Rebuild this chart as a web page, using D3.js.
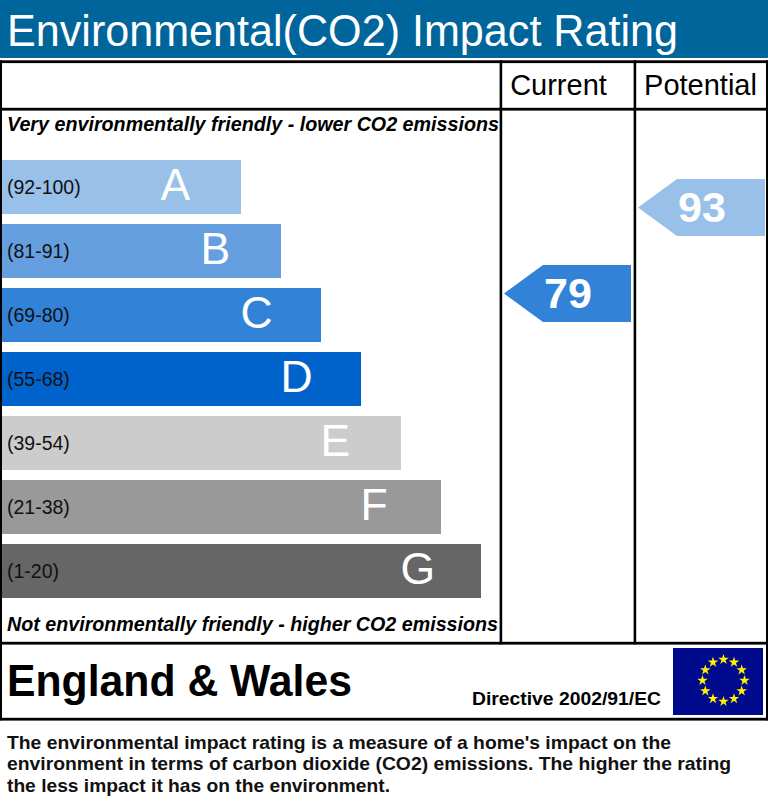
<!DOCTYPE html>
<html><head><meta charset="utf-8">
<script src="https://cdn.jsdelivr.net/npm/d3@7"></script>
<style>html,body{margin:0;padding:0;background:#fff}svg{display:block}text{font-family:"Liberation Sans",Arial,sans-serif}</style>
</head><body><svg id="c" width="768" height="808"></svg>
<script>
const letters = ["A","B","C","D","E","F","G"];
const ranges = ["(92-100)","(81-91)","(69-80)","(55-68)","(39-54)","(21-38)","(1-20)"];
const steps = [1,2,3,4,5,6,7];
const colors = ["#98c0e9","#659fdf","#3282d8","#0063cc","#cccccc","#999999","#666666"];
const scoreCurrent = 79, scorePotential = 93;
const noteLines = ["The environmental impact rating is a measure of a home's impact on the",
 "environment in terms of carbon dioxide (CO2) emissions. The higher the rating",
 "the less impact it has on the environment."];
const ratingColor = s => s>=92?colors[0]:s>=81?colors[1]:s>=69?colors[2]:s>=55?colors[3]:s>=39?colors[4]:s>=21?colors[5]:colors[6];

const svg = d3.select("#c");
const T=(x,y,t,size,o={})=>svg.append("text").attr("x",x).attr("y",y).text(t).attr("font-size",size)
  .attr("fill",o.fill||"#000").attr("font-weight",o.w||"normal").attr("font-style",o.i||"normal")
  .attr("text-anchor",o.a||"start").attr("textLength",o.tl||null).attr("lengthAdjust",o.tl?"spacingAndGlyphs":null);
const R=(x,y,w,h,f)=>svg.append("rect").attr("x",x).attr("y",y).attr("width",w).attr("height",h).attr("fill",f);

// header
R(0,0,768,58,"#00659b");
T(7,46,"Environmental(CO2) Impact Rating",44.5,{fill:"#fff",tl:671});

// scales
const y = d3.scaleBand().domain(letters).range([160,598]).paddingInner(10/64).paddingOuter(0);
const x = d3.scaleLinear().domain([1,7]).range([241,481]);
const yScore = d3.scaleLinear().domain([79,93]).range([293.5,207.5]);

// bars
const g = svg.append("g").selectAll("g").data(letters).join("g");
g.append("rect").attr("x",2).attr("y",d=>y(d)).attr("height",y.bandwidth())
 .attr("width",(d,i)=>x(steps[i])-2).attr("fill",(d,i)=>colors[i]);
g.append("text").attr("x",7).attr("y",d=>y(d)+34).attr("font-size",19.5).attr("fill","#111").text((d,i)=>ranges[i]);
g.append("text").attr("x",(d,i)=>x(steps[i])-80.5).attr("y",d=>y(d)+40).attr("font-size",44.5)
 .attr("fill","#fff").text(d=>d);

// frame
const K="#000";
R(0,60.3,768,2.8,K); R(0,107.8,768,2.8,K); R(0,641.8,768,2.8,K); R(0,717.8,768,2.8,K);
R(0,60.3,2,660,K); R(766,60.3,2,660,K);
R(499.6,60.3,2.6,584,K); R(633.6,60.3,2.6,584,K);

T(558.5,95,"Current",29,{a:"middle"});
T(700.5,95,"Potential",29,{a:"middle"});
T(7,131,"Very environmentally friendly - lower CO2 emissions",20,{w:"bold",i:"italic",tl:492});
T(7,631,"Not environmentally friendly - higher CO2 emissions",20,{w:"bold",i:"italic",tl:491});

// arrows
function arrow(score,tip){
  const c=yScore(score), p=d3.path();
  p.moveTo(tip,c); p.lineTo(tip+39,c-28.5); p.lineTo(tip+127,c-28.5); p.lineTo(tip+127,c+28.5); p.lineTo(tip+39,c+28.5); p.closePath();
  svg.append("path").attr("d",p.toString()).attr("fill",ratingColor(score));
  T(tip+64,c+14,score,43,{fill:"#fff",w:"bold",a:"middle"});
}
arrow(scoreCurrent,504); arrow(scorePotential,638);

// footer
T(7,696,"England & Wales",44,{w:"bold",tl:345});
T(472,705,"Directive 2002/91/EC",19,{w:"bold",tl:189});
R(673,648,90,67,"#000a8c");
const ang=d3.scaleLinear().domain([0,12]).range([0,2*Math.PI]);
const star=d3.symbol().type(d3.symbolStar).size(34)();
svg.append("g").selectAll("path").data(d3.range(12)).join("path").attr("d",star).attr("fill","#fff200")
 .attr("transform",d=>`translate(${723.5+21*Math.sin(ang(d))},${680.5-21*Math.cos(ang(d))})`);

noteLines.forEach((l,i)=>T(7,748.5+i*21.7,l,18.6,{w:"bold",fill:"#111",tl:[664,724,383][i]}));
</script></body></html>
